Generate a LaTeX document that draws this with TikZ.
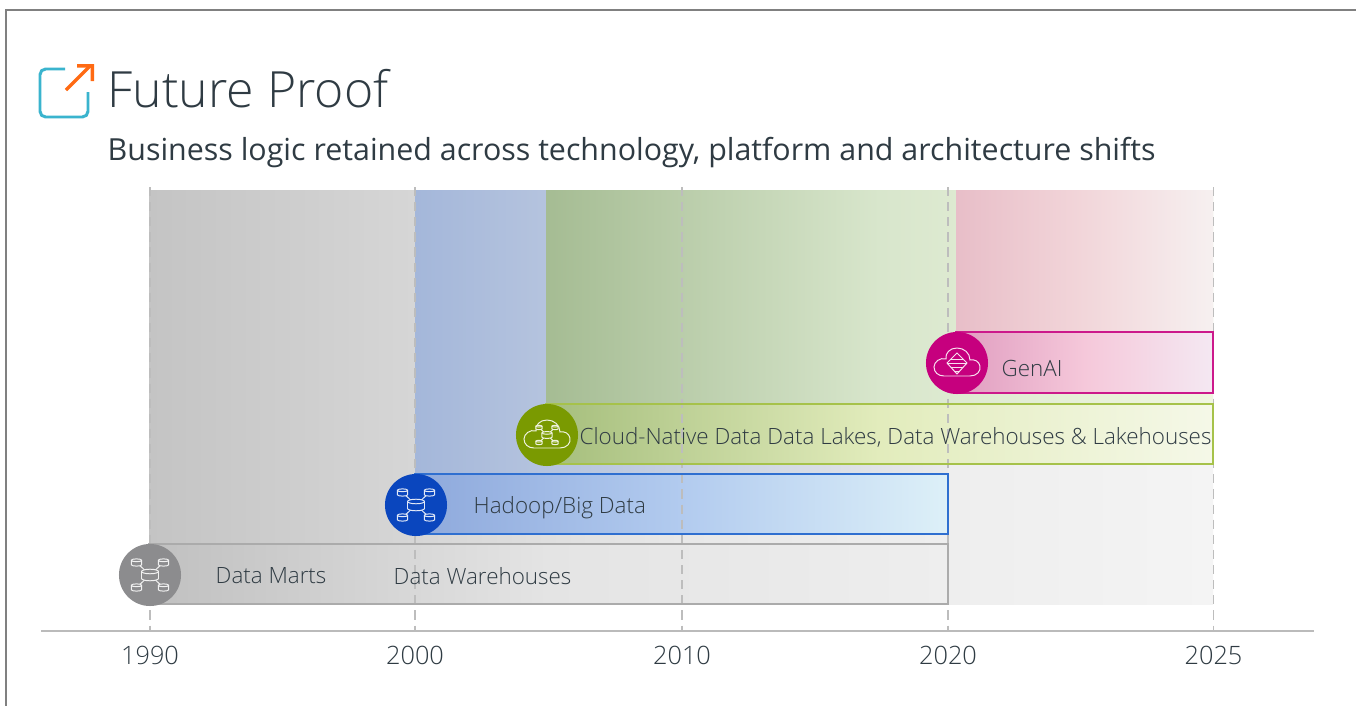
\documentclass[tikz,border=0pt]{standalone}
\usepackage{fontspec}
\setmainfont{Open Sans Light}
\newfontfamily\regfont{Open Sans}
\definecolor{inkdark}{HTML}{2F3B43}
\definecolor{gridgray}{HTML}{BDBDBD}
\definecolor{axisgray}{HTML}{BBBBBB}
\definecolor{martgray}{HTML}{8C8C8E}
\definecolor{hadoopblue}{HTML}{0A46BE}
\definecolor{cloudgreen}{HTML}{7A9A01}
\definecolor{genpink}{HTML}{C6007E}
\definecolor{iconteal}{HTML}{3AB4CE}
\definecolor{iconorange}{HTML}{FF6A13}
\definecolor{hadoopedge}{HTML}{2F6FD0}
\definecolor{cloudedge}{HTML}{A6C24A}
\definecolor{martedge}{HTML}{ABABAB}
\tikzset{
	yearlabel/.style={font=\fontsize{7.2}{9}\selectfont, text=inkdark, inner sep=0pt},
	barlabel/.style={font=\fontsize{6.37}{8}\selectfont, text=inkdark, inner sep=0pt},
	badge/.style={circle, minimum size=0.62cm, inner sep=0pt},
	gridline/.style={gridgray, line width=0.5pt, dash pattern=on 2.6pt off 1.7pt},
	glyph/.style={white!88!badgefill, line width=0.28pt},
	% three stops of a band, given in hex
	band/.style n args={3}{/utils/exec={\definecolor{bandl}{HTML}{#1}\definecolor{bandm}{HTML}{#2}\definecolor{bandr}{HTML}{#3}}, left color=bandl, right color=bandr, middle color=bandm}
}
% cylinder with centre at (#1,#2), half width #3, half height #4
\newcommand{\dbdrum}[4]{
	\filldraw[glyph, fill=badgefill] (#1-#3,#2-#4) -- (#1-#3,#2+#4) arc[start angle=180, end angle=0, x radius=#3, y radius=0.65*#4] -- (#1+#3,#2-#4) arc[start angle=0, end angle=-180, x radius=#3, y radius=0.65*#4] -- cycle;
	\draw[glyph] (#1-#3,#2-#4) arc[start angle=180, end angle=0, x radius=#3, y radius=0.65*#4];
}
% hub of drums, #1 is the size of it
\newcommand{\dbhub}[1]{
	\draw[glyph] (-13.5*#1,-12.5*#1) -- (13.5*#1,12.5*#1);
	\draw[glyph] (13.5*#1,-12.5*#1) -- (-13.5*#1,12.5*#1);
	\dbdrum{0}{0}{8.5*#1}{3.5*#1}
	\dbdrum{-13.5*#1}{-12.5*#1}{5.2*#1}{2.2*#1}
	\dbdrum{13.5*#1}{-12.5*#1}{5.2*#1}{2.2*#1}
	\dbdrum{-13.5*#1}{12.5*#1}{5.2*#1}{2.2*#1}
	\dbdrum{13.5*#1}{12.5*#1}{5.2*#1}{2.2*#1}
}
\newcommand{\cloudline}{
	\draw[glyph] (-13,13) -- (13,13) .. controls (20,13) and (24,8) .. (23,3)
		.. controls (22,-2) and (17,-4) .. (13,-3) .. controls (13,-10) and (7,-15) .. (0,-15)
		.. controls (-7,-15) and (-12,-10) .. (-11,-4) .. controls (-17,-6) and (-23,-1) .. (-23,4)
		.. controls (-23,9) and (-19,13) .. (-13,13) -- cycle;
}
\begin{document}
\begin{tikzpicture}[x=0.01cm, y=-0.01cm]
	\useasboundingbox (0,0) rectangle (1356,706);
	\fill[white] (0,0) rectangle (1356,706);
	\draw[gray, line width=0.45pt] (6,706) -- (6,10) -- (1356,10);
	% header
	\draw[iconteal, line width=0.85pt, rounded corners=1.6pt] (65,69) -- (40,69) -- (40,117) -- (88,117) -- (88,92);
	\draw[iconorange, line width=0.95pt] (66,90) -- (90,66);
	\fill[iconorange] (77,64) -- (94,64) -- (94,81) -- (90.5,81) -- (90.5,67.5) -- (77,67.5) -- cycle;
	\node (title) at (107,89) [anchor=west, inner sep=0pt, text=inkdark, font=\fontsize{14.2}{16}\selectfont] {Future Proof};
	\node (subtitle) at (107,153) [anchor=west, inner sep=0pt, text=inkdark, font=\regfont\fontsize{8.64}{10}\selectfont] {Business logic retained across technology, platform and architecture shifts};
	% eras behind the bars
	\shade[band={C4C4C4}{E8E8E8}{F4F4F4}] (149,190) rectangle (1213,604);
	\shade[band={A4B7DA}{C6D0E2}{EAEAEA}] (415,190) rectangle (948,534);
	\shade[band={A5BC93}{D8E6CC}{F0F6E0}] (546,190) rectangle (1213,404);
	\shade[band={E8BEC8}{F2D6DA}{F6F0F0}] (956,190) rectangle (1213,332);
	% bars
	\shade[band={C0C0C0}{E4E4E4}{EEEEEE}] (149,544) rectangle (948,604);
	\shade[band={8EA9DC}{B2CBEF}{DDF0F8}] (415,474) rectangle (948,534);
	\shade[band={A5BE7C}{E2ECBC}{F5F8E8}] (546,404) rectangle (1213,464);
	\shade[band={E09DC0}{F5C8DA}{F4E8F2}] (956,332) rectangle (1213,393);
	% axis with the years
	\foreach \yr/\xpos in {1990/150,2000/415,2010/682,2020/948,2025/1213.5} {
		\draw[gridline] (\xpos,187) -- (\xpos,631);
		\node (y\yr) at (\xpos,655) [yearlabel] {\yr};
	}
	\draw[axisgray, line width=0.55pt] (41,631) -- (1314,631);
	% edges of the bars
	\draw[martedge, line width=0.45pt] (149,544) rectangle (948,604);
	\draw[hadoopedge, line width=0.45pt] (415,474) rectangle (948,534);
	\draw[cloudedge, line width=0.45pt] (546,404) rectangle (1213,464);
	\draw[genpink!90, line width=0.45pt] (956,332) rectangle (1213,393);
	% labels
	\node (marts) at (215,576) [barlabel, anchor=west] {Data Marts};
	\node (wh) at (393,576) [barlabel, anchor=west] {Data Warehouses};
	\node (hadoop) at (473,508) [barlabel, anchor=west] {Hadoop/Big Data};
	\node (cloud) at (579,437) [barlabel, anchor=west] {Cloud-Native Data Data Lakes, Data Warehouses \& Lakehouses};
	\node (genai) at (1001,368) [barlabel, anchor=west] {GenAI};
	% badges
	\colorlet{badgefill}{martgray}
	\node (martbadge) at (150,575) [badge, fill=martgray] {};
	\begin{scope}[shift={(martbadge.center)}] \dbhub{1} \end{scope}
	\colorlet{badgefill}{hadoopblue}
	\node (hadoopbadge) at (416,505) [badge, fill=hadoopblue] {};
	\begin{scope}[shift={(hadoopbadge.center)}] \dbhub{1} \end{scope}
	\colorlet{badgefill}{cloudgreen}
	\node (cloudbadge) at (547,435) [badge, fill=cloudgreen] {};
	\begin{scope}[shift={(cloudbadge.center)}]
		\cloudline
		\dbhub{0.6}
	\end{scope}
	\colorlet{badgefill}{genpink}
	\node (genbadge) at (957,363) [badge, fill=genpink] {};
	\begin{scope}[shift={(genbadge.center)}]
		\cloudline
		\draw[glyph] (0,-10) -- (10,0) -- (0,11) -- (-10,0) -- cycle;
		\draw[glyph] (-6,-4) -- (6,-4) (-9,0) -- (9,0) (-6,4) -- (6,4) (-3,8) -- (3,8);
	\end{scope}
\end{tikzpicture}
\end{document}
